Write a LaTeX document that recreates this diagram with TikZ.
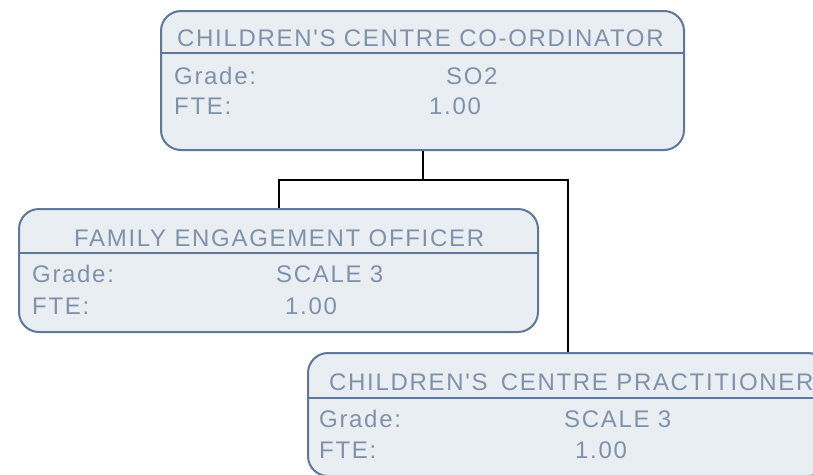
\documentclass[tikz,border=0pt]{standalone}
\usepackage{fontspec}
\newfontfamily\orgfont[LetterSpace=7]{Liberation Sans}
\usetikzlibrary{calc}
\definecolor{cFill}{RGB}{233,238,242}
\definecolor{cEdge}{RGB}{95,120,152}
\definecolor{cText}{RGB}{128,146,171}
\tikzset{
  post/.style={draw=cEdge, fill=cFill, line width=2pt, rounded corners=20pt, inner sep=0pt},
  lbl/.style={anchor=base west, inner sep=0pt, text=cText, font=\orgfont\fontsize{24}{28}\selectfont},
  sep/.style={draw=cEdge, line width=2pt},
  ln/.style={draw=black, line width=2pt},
}

\begin{document}
\begin{tikzpicture}[x=1pt,y=-1pt]
\clip (0,0) rectangle (813,474);
\fill[white] (0,0) rectangle (813,474);

% posts
\node[post, minimum width=523pt, minimum height=139pt] (co) at (422.5,80.5) {};
\node[post, minimum width=519pt, minimum height=123pt] (feo) at (278.5,270.5) {};
\node[post, minimum width=520pt, minimum height=123pt] (ccp) at (568,414.5) {};

% header rules
\draw[sep] ($(co.north west)+(0,43)$) -- ($(co.north east)+(0,43)$);
\draw[sep] ($(feo.north west)+(0,45)$) -- ($(feo.north east)+(0,45)$);
\draw[sep] ($(ccp.north west)+(0,46)$) -- ($(ccp.north east)+(0,46)$);

% co-ordinator
\node[lbl] (co-t) at ($(co.north west)+(17,36)$) {CHILDREN'S CENTRE CO-ORDINATOR};
\node[lbl] (co-g) at ($(co.north west)+(14,74)$) {Grade:};
\node[lbl] (co-gv) at ($(co.north west)+(286,74)$) {SO2};
\node[lbl] (co-f) at ($(co.north west)+(14,104)$) {FTE:};
\node[lbl] (co-fv) at ($(co.north west)+(269,104)$) {1.00};

% family engagement officer
\node[lbl] (feo-t) at ($(feo.north west)+(56,38)$) {FAMILY ENGAGEMENT OFFICER};
\node[lbl] (feo-g) at ($(feo.north west)+(14,74)$) {Grade:};
\node[lbl] (feo-gv) at ($(feo.north west)+(258,74)$) {SCALE 3};
\node[lbl] (feo-f) at ($(feo.north west)+(14,106)$) {FTE:};
\node[lbl] (feo-fv) at ($(feo.north west)+(267,106)$) {1.00};

% practitioner
\node[lbl] (ccp-t) at ($(ccp.north west)+(22,38)$) {CHILDREN'S\hspace{5pt} CENTRE PRACTITIONER};
\node[lbl] (ccp-g) at ($(ccp.north west)+(12,75)$) {Grade:};
\node[lbl] (ccp-gv) at ($(ccp.north west)+(257,75)$) {SCALE 3};
\node[lbl] (ccp-f) at ($(ccp.north west)+(12,106)$) {FTE:};
\node[lbl] (ccp-fv) at ($(ccp.north west)+(268,106)$) {1.00};

% reporting lines
\coordinate (split) at ($(co.south)+(0,29)$);
\draw[ln] (co.south) -- (split);
\draw[ln] (feo.north) |- (split) -| (ccp.north);
\end{tikzpicture}
\end{document}
